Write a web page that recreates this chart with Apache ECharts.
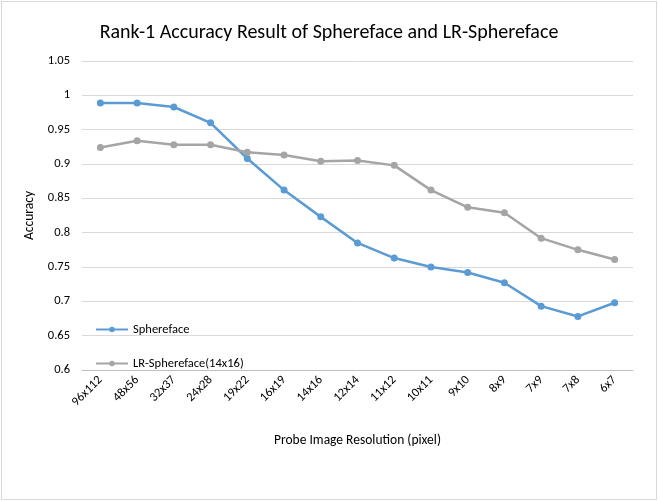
<!DOCTYPE html>
<html>
<head>
<meta charset="utf-8">
<script src="https://cdn.jsdelivr.net/npm/echarts@6/dist/echarts.min.js"></script>
<style>
    html, body { margin: 0; padding: 0; background: #fff; }
    #chart { position: absolute; left: 1px; top: 1px; width: 654px; height: 497px; border: 1px solid #d9d9d9; }
</style>
</head>
<body>
<div id="chart"></div>
<script>
    let categories = ['96x112', '48x56', '32x37', '24x28', '19x22', '16x19', '14x16', '12x14',
        '11x12', '10x11', '9x10', '8x9', '7x9', '7x8', '6x7'];
    let sphereface = [0.989, 0.989, 0.983, 0.960, 0.908, 0.862, 0.823, 0.785,
        0.763, 0.750, 0.742, 0.727, 0.693, 0.678, 0.698];
    let lrSphereface = [0.924, 0.934, 0.928, 0.928, 0.917, 0.913, 0.904, 0.905,
        0.898, 0.862, 0.837, 0.829, 0.792, 0.775, 0.761];
    let yTicks = [0.6, 1.05, 0.05];

    let font = 'Calibri, Carlito, "Liberation Sans", sans-serif';
    let chart = echarts.init(document.getElementById('chart'));
    let mkSeries = function (name, data, color) {
        return {
            name: name,
            type: 'line',
            data: data,
            symbol: 'circle',
            symbolSize: 7,
            lineStyle: { color: color, width: 2.5 },
            itemStyle: { color: color }
        };
    };
    let option = {
        animation: false,
        title: {
            text: 'Rank-1 Accuracy Result of Sphereface and LR-Sphereface',
            left: 'center',
            top: 16,
            textStyle: { fontFamily: font, fontSize: 20, fontWeight: 'normal', color: '#000' }
        },
        legend: {
            orient: 'vertical',
            left: 88,
            top: 316,
            itemGap: 21,
            itemWidth: 32,
            itemHeight: 7,
            textStyle: { fontFamily: font, fontSize: 12.5, color: '#000' },
            data: ['Sphereface', 'LR-Sphereface(14x16)']
        },
        grid: { left: 80, right: 23, top: 59, bottom: 129 },
        xAxis: {
            type: 'category',
            data: categories,
            name: 'Probe Image Resolution (pixel)',
            nameLocation: 'middle',
            nameGap: 64,
            nameTextStyle: { fontFamily: font, fontSize: 13.5, color: '#000' },
            axisLine: { lineStyle: { color: '#bfbfbf' } },
            axisTick: { show: false },
            axisLabel: { rotate: 45, fontFamily: font, fontSize: 12.5, color: '#000', interval: 0 }
        },
        yAxis: {
            type: 'value',
            min: yTicks[0],
            max: yTicks[1],
            interval: yTicks[2],
            name: 'Accuracy',
            nameLocation: 'middle',
            nameGap: 42,
            nameTextStyle: { fontFamily: font, fontSize: 13.5, color: '#000' },
            axisLine: { show: false },
            axisTick: { show: false },
            splitLine: { lineStyle: { color: '#d9d9d9' } },
            axisLabel: {
                fontFamily: font, fontSize: 12.5, color: '#000', margin: 12,
                formatter: function (v) { return String(+v.toFixed(2)); }
            }
        },
        series: [
            mkSeries('Sphereface', sphereface, '#5b9bd5'),
            mkSeries('LR-Sphereface(14x16)', lrSphereface, '#a5a5a5')
        ]
    };
    chart.setOption(option, true);
</script>
</body>
</html>
